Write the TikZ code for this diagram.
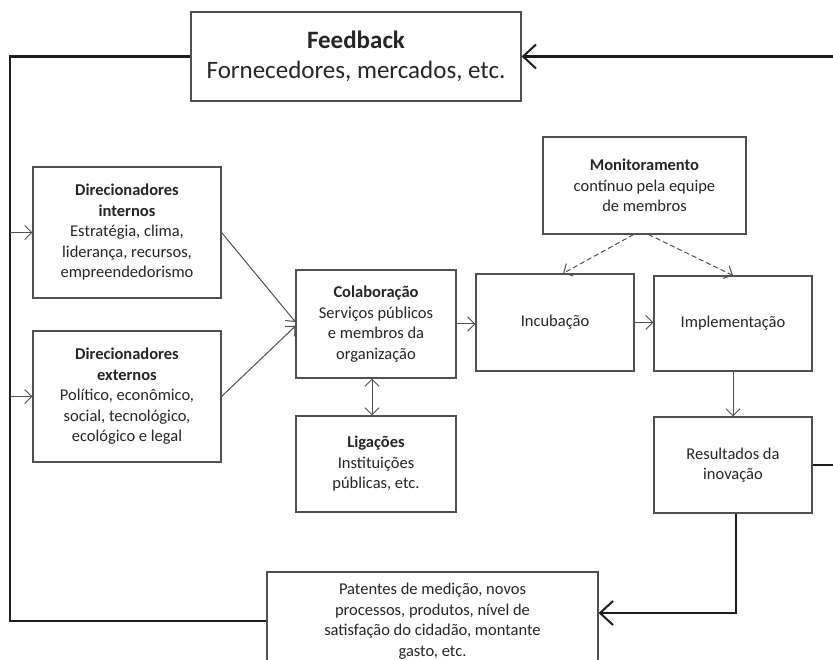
\documentclass[tikz,border=0pt]{standalone}
\usepackage{fontspec}
\setmainfont{Carlito}
\usetikzlibrary{arrows.meta,calc}

\definecolor{inktext}{HTML}{262626}
\definecolor{inkbox}{HTML}{505050}
\definecolor{inkline}{HTML}{1E1E1E}

\tikzset{
  box/.style={draw=inkbox, line width=1.1pt, fill=white, align=center,
    text=inktext, inner sep=2pt,
    font=\fontsize{16.5}{20.5}\selectfont},
  bigbox/.style={box, font=\fontsize{25}{30}\selectfont},
  thin/.style={draw=inkbox, line width=1pt,
    -{Straight Barb[length=7pt,width=14pt,line width=1pt]}},
  thinboth/.style={draw=inkbox, line width=1pt,
    {Straight Barb[length=7pt,width=14pt,line width=1pt]}-{Straight Barb[length=7pt,width=14pt,line width=1pt]}},
  dashedarrow/.style={thin, dashed, dash pattern=on 5pt off 3pt},
  loop/.style={draw=inkline, line width=2.6pt},
  looparrow/.style={loop,
    -{Straight Barb[length=13pt,width=24pt,line width=2pt]}},
}

\begin{document}
\begin{tikzpicture}[x=1pt, y=-1pt]
  \clip (0,0) rectangle (833,660);
  \fill[white] (0,0) rectangle (833,660);

  % boxes
  \node[bigbox, minimum width=330pt, minimum height=89pt] (fb) at (356,56.5)
    {\textbf{Feedback}\\Fornecedores, mercados, etc.};
  \node[box, minimum width=188pt, minimum height=131pt] (dint) at (127,232.5)
    {\textbf{Direcionadores}\\\textbf{internos}\\Estratégia, clima,\\liderança, recursos,\\empreendedorismo};
  \node[box, minimum width=188pt, minimum height=131pt] (dext) at (127,396.5)
    {\textbf{Direcionadores}\\\textbf{externos}\\Político, econômico,\\social, tecnológico,\\ecológico e legal};
  \node[box, minimum width=160pt, minimum height=108pt] (colab) at (376,324)
    {\textbf{Colaboração}\\Serviços públicos\\e membros da\\organização};
  \node[box, minimum width=160pt, minimum height=96pt] (lig) at (376,464)
    {\textbf{Ligações}\\Instituições\\públicas, etc.};
  \node[box, minimum width=158pt, minimum height=97pt] (incub) at (555,322.5)
    {Incubação};
  \node[box, minimum width=158pt, minimum height=95pt] (impl) at (733,323.5)
    {Implementação};
  \node[box, minimum width=203pt, minimum height=97pt] (monit) at (644.5,185.5)
    {\textbf{Monitoramento}\\contínuo pela equipe\\de membros};
  \node[box, minimum width=158pt, minimum height=96pt] (res) at (733,465)
    {Resultados da\\inovação};
  \node[box, minimum width=331pt, minimum height=98pt] (bot) at (432.5,621)
    {Patentes de medição, novos\\processos, produtos, nível de\\satisfação do cidadão, montante\\gasto, etc.};

  % free ends of the feedback loop
  \coordinate (rtop) at (833,56.5);
  \coordinate (rres) at (833,465);
  \coordinate (loopcorner) at (10,56.5);

  % feedback loop
  \draw[looparrow] (rtop) -- (fb.east);
  \draw[loop] (res.east) -- (rres);
  \draw[loop] (bot.west) -| (loopcorner) -- (fb.west);
  \draw[looparrow] ($(res.south)+(3,0)$) |- ($(bot.east)+(0,-8)$);

  % drivers
  \draw[thin] (dint.west -| loopcorner) -- (dint.west);
  \draw[thin] (dext.west -| loopcorner) -- (dext.west);
  \draw[thin] (dint.east) -- ($(colab.west)+(0,-2)$);
  \draw[thin] (dext.east) -- ($(colab.west)+(0,2)$);

  % main chain
  \draw[thin] (colab.east) -- (colab.east -| incub.west);
  \draw[thin] (incub.east) -- (incub.east -| impl.west);
  \draw[thin] (impl.south) -- (res.north);
  \draw[thinboth] ($(colab.south)+(-4,0)$) -- ($(lig.north)+(-4,0)$);

  % monitoring
  \draw[dashedarrow] ($(monit.south)+(-11,0)$) -- ($(incub.north)+(8,0)$);
  \draw[dashedarrow] ($(monit.south)+(4,0)$) -- (impl.north);
\end{tikzpicture}
\end{document}
